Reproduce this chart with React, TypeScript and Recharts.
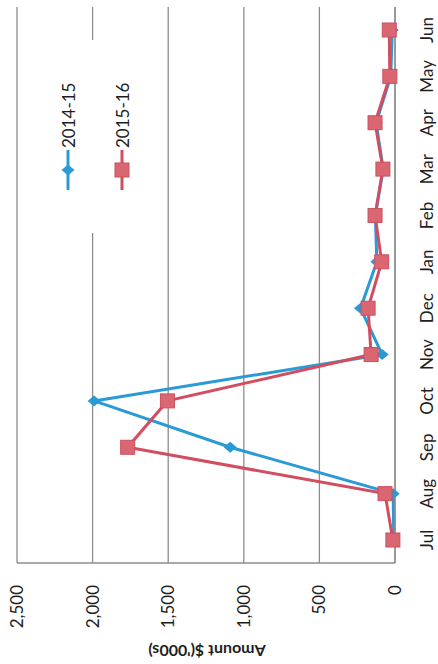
import { LineChart, Line, XAxis, YAxis, CartesianGrid, Legend } from 'recharts';

// Rates receivable by month, $'000s
const MONTHS = ['Jul', 'Aug', 'Sep', 'Oct', 'Nov', 'Dec', 'Jan', 'Feb', 'Mar', 'Apr', 'May', 'Jun'];
const RATES_2014_15 = [8, 12, 1090, 1990, 85, 228, 120, 130, 78, 125, 28, 18];
const RATES_2015_16 = [14, 66, 1768, 1505, 158, 178, 88, 132, 80, 132, 34, 38];
const VALUE_TICKS = [0, 500, 1000, 1500, 2000, 2500];

const data = MONTHS.map((month, i) => ({
  month,
  fy1415: RATES_2014_15[i],
  fy1516: RATES_2015_16[i],
}));

// chart is laid out landscape, then turned a quarter turn to sit on the page
const CHART_W = 664;
const CHART_H = 438;
const FONT = 'Lato, "Open Sans", sans-serif';
const BLUE = '#2a9ad6';
const RED_LINE = '#d24d60';
const RED_FILL = '#da6671';
const GRID = '#8c8c8c';
const TEXT = '#1e1e1e';

interface DotProps { cx?: number; cy?: number }

function Diamond({ cx, cy }: DotProps) {
  if (cx == null || cy == null) return null;
  return (
    <path
      d={`M${cx - 5.5},${cy} L${cx},${cy - 6.5} L${cx + 5.5},${cy} L${cx},${cy + 6.5} Z`}
      fill={BLUE}
    />
  );
}

function Square({ cx, cy }: DotProps) {
  if (cx == null || cy == null) return null;
  return <rect x={cx - 7} y={cy - 7} width={14} height={14} fill={RED_FILL} stroke="#c9515f" strokeWidth={1} />;
}

interface LegendEntry { value: string; color: string; dataKey?: string }

function SeriesLegend({ payload }: { payload?: LegendEntry[] }) {
  if (!payload) return null;
  return (
    <div style={{ background: '#fff', width: '100%', height: '100%' }}>
      {payload.map((entry) => (
        <div key={entry.value} style={{ display: 'flex', alignItems: 'center', height: 54, paddingLeft: 43 }}>
          <svg width={40} height={16}>
            <line x1={0} y1={8} x2={40} y2={8} stroke={entry.color} strokeWidth={3} />
            {entry.dataKey === 'fy1415' ? <Diamond cx={20} cy={8} /> : <Square cx={20} cy={8} />}
          </svg>
          <span style={{ marginLeft: 2, fontSize: 17, color: TEXT, fontFamily: FONT }}>{entry.value}</span>
        </div>
      ))}
    </div>
  );
}

const fmt = (v: number) => v.toLocaleString('en-US');

export default function App() {
  return (
    <div
      style={{
        position: 'fixed',
        left: 0,
        top: 0,
        width: 438,
        height: 664,
        overflow: 'hidden',
        background: '#fff',
        fontFamily: FONT,
      }}
    >
      <div
        style={{
          position: 'absolute',
          left: 0,
          top: 0,
          width: CHART_W,
          height: CHART_H,
          transformOrigin: '0 0',
          transform: `translate(0px, ${CHART_W}px) rotate(-90deg)`,
        }}
      >
        <LineChart
          width={CHART_W}
          height={CHART_H}
          data={data}
          margin={{ top: 17, right: 7, bottom: 0, left: 0 }}
        >
          <CartesianGrid vertical={false} stroke={GRID} strokeWidth={1.3} />
          <XAxis
            dataKey="month"
            height={43}
            padding={{ left: 23, right: 23 }}
            axisLine={{ stroke: GRID, strokeWidth: 1.3 }}
            tickLine={false}
            tickSize={0}
            tickMargin={26}
            tick={{ fill: TEXT, fontSize: 17, fontFamily: FONT }}
            interval={0}
          />
          <YAxis
            domain={[0, 2500]}
            ticks={VALUE_TICKS}
            tickFormatter={fmt}
            width={101}
            axisLine={{ stroke: GRID, strokeWidth: 1.3 }}
            tickLine={false}
            tickSize={0}
            tickMargin={22}
            tick={{ fill: TEXT, fontSize: 17, fontFamily: FONT }}
          />
          <Legend
            layout="vertical"
            align="center"
            verticalAlign="middle"
            content={<SeriesLegend />}
            wrapperStyle={{ left: 431, top: 41, width: 193, height: 108 }}
          />
          <Line
            dataKey="fy1415"
            name="2014-15"
            stroke={BLUE}
            strokeWidth={3}
            dot={(p: any) => <Diamond key={`d-${p.index}`} cx={p.cx} cy={p.cy} />}
            activeDot={false}
            isAnimationActive={false}
          />
          <Line
            dataKey="fy1516"
            name="2015-16"
            stroke={RED_LINE}
            strokeWidth={3}
            dot={(p: any) => <Square key={`s-${p.index}`} cx={p.cx} cy={p.cy} />}
            activeDot={false}
            isAnimationActive={false}
          />
        </LineChart>

        {/* chart title, running off the top edge */}
        <div
          style={{
            position: 'absolute',
            left: 129,
            top: -18,
            width: 300,
            textAlign: 'center',
            fontSize: 17,
            lineHeight: '17px',
            fontWeight: 700,
            color: TEXT,
            whiteSpace: 'nowrap',
          }}
        >
          Note 6 - Rates Receivable
        </div>

        {/* value axis title */}
        <div
          style={{
            position: 'absolute',
            left: 13 - 100,
            top: 207 - 10,
            width: 200,
            height: 20,
            lineHeight: '20px',
            textAlign: 'center',
            fontSize: 16,
            fontWeight: 700,
            color: TEXT,
            transform: 'rotate(-90deg)',
            whiteSpace: 'nowrap',
          }}
        >
          Amount $('000s)
        </div>
      </div>
    </div>
  );
}
